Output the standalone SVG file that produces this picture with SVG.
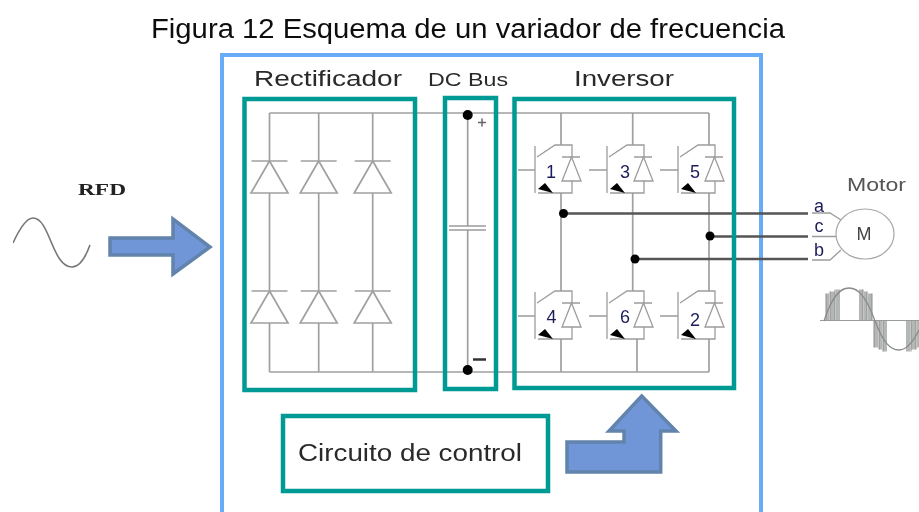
<svg xmlns="http://www.w3.org/2000/svg" xmlns:xlink="http://www.w3.org/1999/xlink" width="919" height="512" viewBox="0 0 919 512">
<style>
.box{fill:none;stroke:#069a94;stroke-width:4.5}
.w{fill:none;stroke:#a0a0a0;stroke-width:1.7}
.thin{fill:none;stroke:#9c9c9c;stroke-width:1.3}
.bus{fill:none;stroke:#555;stroke-width:2.4}
.dot{fill:#000}
.arrow{fill:#7196d8;stroke:#6283ac;stroke-width:3.5;stroke-linejoin:miter}
.t{font-family:"Liberation Sans",Arial,sans-serif;fill:#2a2a2a}
.n{font-family:"Liberation Sans",Arial,sans-serif;font-size:18px;fill:#1d1d5a;text-anchor:middle}
</style>
<defs>
<filter id="soft" x="0" y="0" width="100%" height="100%"><feGaussianBlur stdDeviation="0.4"/></filter>
<g id="diode"><path class="w" d="M-18 0H18M0 0L-18.500 32H18.500Z"/></g>
<g id="igbt">
<path class="thin" d="M0 0V47M2 11L20 -1H37V11M27 11H45M36.500 11L27 35H46ZM37 35V47H3"/>
<path class="dot" d="M3 43L10 37L18 47Z"/>
</g>
<g id="pwmhalf">
<path d="M0 0V-27H3V0ZM4 0V-29H9V0ZM10 0V-31H14V0ZM33 0V-31H37V0ZM38 0V-29H41V0ZM42 0V-27H46V0Z" fill="#b4b8b4"/>
<path d="M0 0V-27M4 0V-29M9 0V-31M37 0V-31M41 0V-29M46 0V-27" stroke="#8c8c8c" stroke-width="1" fill="none"/>
</g>
</defs>
<rect width="919" height="512" fill="#fff"/>
<g filter="url(#soft)">
<text id="title" class="t" x="151" y="38" font-size="27" textLength="634" lengthAdjust="spacingAndGlyphs" style="fill:#111">Figura 12 Esquema de un variador de frecuencia</text>
<rect id="frame" x="222" y="55" width="539" height="470" fill="none" stroke="#67abf6" stroke-width="4"/>

<g id="connectors">
<path class="w" d="M269.500 113H709M269.500 372H709"/>
<path class="w" d="M269.500 113V161M269.500 193V291M269.500 323V372M318.700 113V161M318.700 193V291M318.700 323V372M372.700 113V161M372.700 193V291M372.700 323V372"/>
<path class="w" d="M467.700 114V226M467.700 230V370"/>
<path class="w" d="M561 113V145M632.700 113V145M709 113V145M561 193V291M632.700 193V291M709 193V291M561 339V372M637 339V372M709 339V372"/>
<path class="thin" d="M518 170H535M589 170H607M660 170H678M518 316H535M589 316H607M660 316H678"/>
<path class="bus" d="M563 213.500H808M710 236.500H808M635 259H808"/>
<path class="thin" d="M812 213H830L841 220M812 236.500H837M812 260H830L841 250"/>
</g>

<g id="rectificador">
<rect class="box" x="244.500" y="99" width="170.500" height="291"/>
<text class="t" x="254" y="86" font-size="22" textLength="148" lengthAdjust="spacingAndGlyphs">Rectificador</text>
<use xlink:href="#diode" x="269.500" y="161"/><use xlink:href="#diode" x="318.700" y="161"/><use xlink:href="#diode" x="372.700" y="161"/>
<use xlink:href="#diode" x="269.500" y="291"/><use xlink:href="#diode" x="318.700" y="291"/><use xlink:href="#diode" x="372.700" y="291"/>
</g>

<g id="dc-bus">
<rect class="box" x="445" y="98" width="51" height="291"/>
<text class="t" x="428" y="86" font-size="19" textLength="80" lengthAdjust="spacingAndGlyphs">DC Bus</text>
<path class="thin" d="M449 226H486M449 230H486"/>
<circle class="dot" cx="467.700" cy="115" r="5"/><circle class="dot" cx="467.700" cy="370" r="5"/>
<path d="M478 122.500H486M482 118.500V126.500" stroke="#666" stroke-width="1.500" fill="none"/>
<path d="M473 359.500H486" stroke="#333" stroke-width="2.500" fill="none"/>
</g>

<g id="inversor">
<rect class="box" x="514.500" y="99" width="219.500" height="289"/>
<text class="t" x="574" y="86" font-size="22" textLength="100" lengthAdjust="spacingAndGlyphs">Inversor</text>
<use xlink:href="#igbt" x="535" y="146"/><use xlink:href="#igbt" x="607" y="146"/><use xlink:href="#igbt" x="678" y="146"/>
<use xlink:href="#igbt" x="535" y="292"/><use xlink:href="#igbt" x="607" y="292"/><use xlink:href="#igbt" x="678" y="292"/>
<text class="n" x="551" y="178">1</text><text class="n" x="625" y="178">3</text><text class="n" x="695" y="178">5</text>
<text class="n" x="551.500" y="323">4</text><text class="n" x="625" y="323">6</text><text class="n" x="695" y="326">2</text>
<circle class="dot" cx="563.500" cy="213.500" r="4.500"/><circle class="dot" cx="710" cy="236" r="4.500"/><circle class="dot" cx="635" cy="259" r="4.500"/>
</g>

<g id="control">
<rect class="box" x="283" y="416" width="265" height="75"/>
<text class="t" x="298" y="461" font-size="23" textLength="224" lengthAdjust="spacingAndGlyphs">Circuito de control</text>
</g>
<g id="arrow-control">
<path class="arrow" d="M641.700 396L676 431H660.700V472H567V442H624V431H609Z"/>
</g>

<g id="red">
<text x="78" y="195" font-family="Liberation Serif,Times New Roman,serif" font-size="16" font-weight="bold" textLength="48" lengthAdjust="spacingAndGlyphs" fill="#222">RFD</text>
<path d="M13 243C19 230 26 218 33 218C50 218 52 267 72 267C80 267 86 256 90 245" fill="none" stroke="#777" stroke-width="1.600"/>
</g>
<g id="arrow-red">
<path class="arrow" d="M110 238H173V219L210 247L173 274V255H110Z"/>
</g>

<g id="motor">
<text class="t" x="847" y="191" font-size="19" textLength="59" lengthAdjust="spacingAndGlyphs" style="fill:#555">Motor</text>
<ellipse cx="865" cy="234" rx="29" ry="25" fill="#fff" stroke="#a8a8a8" stroke-width="1.200"/>
<text class="t" x="864" y="240" font-size="18" text-anchor="middle" style="fill:#444">M</text>
<text class="n" x="819" y="212">a</text>
<text class="n" x="819" y="232">c</text>
<text class="n" x="819" y="256">b</text>
</g>

<g id="onda">
<use xlink:href="#pwmhalf" x="826" y="320.500"/>
<use xlink:href="#pwmhalf" x="-920" y="-320.500" transform="scale(-1,-1)"/>
<path d="M820 320.500H919" stroke="#9a9a9a" stroke-width="1.200" fill="none"/>
<path d="M824 321C832 296 840 288 849 288C858 288 866 296 875 321C883 342 890 350 899 350C906 350 913 342 919 330" fill="none" stroke="#8a8a8a" stroke-width="1.300"/>
</g>
</g>
</svg>
